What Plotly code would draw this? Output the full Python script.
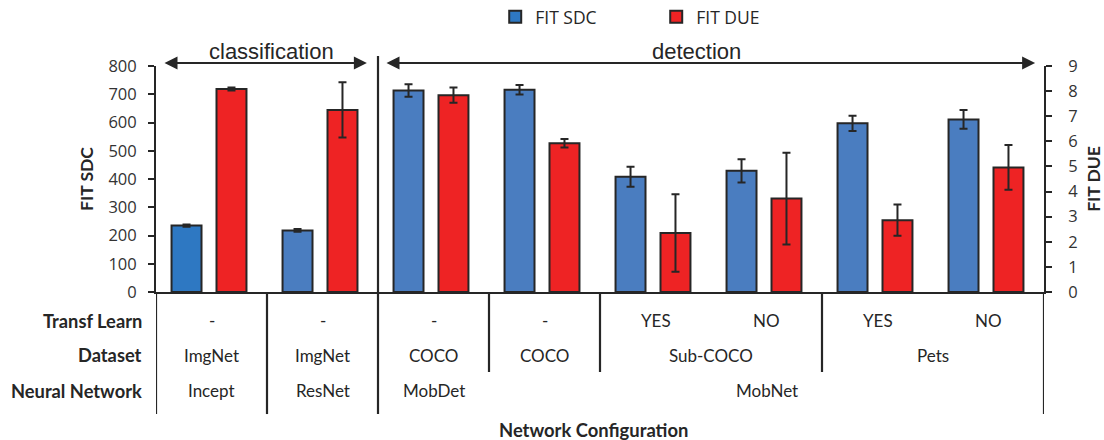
import plotly.graph_objects as go

configs = ["Incept/ImgNet", "ResNet/ImgNet", "MobDet/COCO", "MobNet/COCO",
           "MobNet/Sub-COCO/YES", "MobNet/Sub-COCO/NO", "MobNet/Pets/YES", "MobNet/Pets/NO"]
fit_sdc = [235, 218, 713, 716, 408, 429, 597, 611]
fit_sdc_err = [4, 5, 22, 17, 35, 41, 27, 33]
fit_due = [8.08, 7.25, 7.84, 5.92, 2.35, 3.72, 2.86, 4.96]
fit_due_err = [0.06, 1.1, 0.3, 0.17, 1.54, 1.83, 0.62, 0.89]

transf_learn = ["-", "-", "-", "-", "YES", "NO", "YES", "NO"]
dataset_spans = [("ImgNet", 0, 0), ("ImgNet", 1, 1), ("COCO", 2, 2), ("COCO", 3, 3),
                 ("Sub-COCO", 4, 5), ("Pets", 6, 7)]
network_spans = [("Incept", 0, 0), ("ResNet", 1, 1), ("MobDet", 2, 2), ("MobNet", 3, 7)]
row_labels = ["Transf Learn", "Dataset", "Neural Network"]

DARK = "#262626"
BLUE = "#4a7dc0"
RED = "#ee2324"
blue_colors = ["#2e78c2"] + [BLUE] * (len(configs) - 1)

fig = go.Figure()
fig.add_trace(go.Bar(
    x=configs, y=fit_sdc, name="FIT SDC", yaxis="y",
    marker=dict(color=blue_colors, line=dict(color=DARK, width=2)),
    width=0.27, offset=-0.36,
    error_y=dict(type="data", array=fit_sdc_err, color=DARK, thickness=2, width=4),
))
fig.add_trace(go.Bar(
    x=configs, y=fit_due, name="FIT DUE", yaxis="y2",
    marker=dict(color=RED, line=dict(color=DARK, width=2)),
    width=0.27, offset=0.045,
    error_y=dict(type="data", array=fit_due_err, color=DARK, thickness=2, width=4),
))

tick_font = dict(family="Open Sans", size=16.5, color="#333333")
title_font = dict(family="Lato", size=17.5, color=DARK)

fig.update_layout(
    width=1104, height=440,
    margin=dict(l=156, r=60, t=66, b=148, autoexpand=False),
    plot_bgcolor="white", paper_bgcolor="white",
    barmode="overlay",
    showlegend=True,
    legend=dict(orientation="h", x=0.382, y=1.217, xanchor="left", yanchor="middle",
                font=dict(family="Open Sans", size=17.5, color=DARK),
                entrywidth=116, itemwidth=30),
    xaxis=dict(type="category", range=[-0.5, 7.5], showticklabels=False,
               showline=True, linecolor=DARK, linewidth=2, ticks="",
               showgrid=False, zeroline=False, fixedrange=True),
    yaxis=dict(range=[0, 800], dtick=100, showline=True, linecolor=DARK, linewidth=2,
               ticks="outside", ticklen=6, tickwidth=2, tickcolor=DARK,
               showgrid=False, zeroline=False, tickfont=tick_font,
               ticklabelstandoff=8,
               title=dict(text="<b>FIT SDC</b>", font=title_font, standoff=10)),
    yaxis2=dict(range=[0, 9], dtick=1, overlaying="y", side="right",
                showline=True, linecolor=DARK, linewidth=2,
                ticks="outside", ticklen=6, tickwidth=2, tickcolor=DARK,
                showgrid=False, zeroline=False, tickfont=tick_font,
                ticklabelstandoff=13,
                title=dict(text="<b>FIT DUE</b>", font=title_font, standoff=17)),
)

# table geometry (paper y, category x)
row_y = [-0.128, -0.279, -0.438]
y_axis = 0.0
y_mid = -0.354
y_bot = -0.540
line = dict(color=DARK, width=2.2)

# full-height separators
for xb in [-0.5, 0.5, 7.5]:
    fig.add_shape(type="line", xref="x", yref="paper", x0=xb, x1=xb, y0=y_axis, y1=y_bot, line=line)
# tall divider between classification and detection
fig.add_shape(type="line", xref="x", yref="paper", x0=1.5, x1=1.5, y0=1.044, y1=y_bot, line=line)
# separators for first two rows only
for xb in [2.5, 3.5, 5.5]:
    fig.add_shape(type="line", xref="x", yref="paper", x0=xb, x1=xb, y0=y_axis, y1=y_mid, line=line)

table_font = dict(family="Lato", size=17, color=DARK)
for i, t in enumerate(transf_learn):
    fig.add_annotation(x=i, y=row_y[0], xref="x", yref="paper", text=t, showarrow=False,
                       font=table_font, yanchor="middle")
for t, a, b in dataset_spans:
    fig.add_annotation(x=(a + b) / 2, y=row_y[1], xref="x", yref="paper", text=t, showarrow=False,
                       font=table_font, yanchor="middle")
for t, a, b in network_spans:
    fig.add_annotation(x=(a + b) / 2, y=row_y[2], xref="x", yref="paper", text=t, showarrow=False,
                       font=table_font, yanchor="middle")
for lbl, ry in zip(row_labels, row_y):
    fig.add_annotation(x=-0.0135, y=ry, xref="paper", yref="paper", text=f"<b>{lbl}</b>",
                       showarrow=False, xanchor="right", yanchor="middle",
                       font=dict(family="Lato", size=18.3, color=DARK))
fig.add_annotation(x=0.493, y=-0.611, xref="paper", yref="paper", text="<b>Network Configuration</b>",
                   showarrow=False, xanchor="center", yanchor="middle",
                   font=dict(family="Lato", size=18.4, color=DARK))

# group arrows and labels
arrow_y = 1.013
for x0, x1 in [(-0.437, 1.40), (1.563, 7.42)]:
    fig.add_annotation(x=x1, y=arrow_y, xref="x", yref="paper", ax=x0, ay=0,
                       axref="x", ayref="pixel", text="", showarrow=True,
                       arrowhead=2, arrowside="end+start", arrowsize=1.3, arrowwidth=2,
                       arrowcolor=DARK)
group_font = dict(family="Liberation Sans", size=22, color=DARK)
fig.add_annotation(x=0.536, y=1.062, xref="x", yref="paper", text="classification",
                   showarrow=False, font=group_font, yanchor="middle")
fig.add_annotation(x=4.365, y=1.062, xref="x", yref="paper", text="detection",
                   showarrow=False, font=group_font, yanchor="middle")

fig.write_html("out.html", config={"displayModeBar": False},
               post_script="document.body.style.margin='0px';")
